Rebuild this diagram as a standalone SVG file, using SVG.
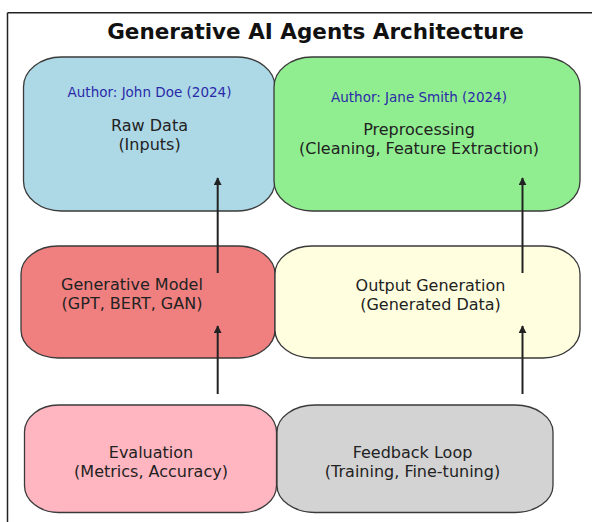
<svg xmlns="http://www.w3.org/2000/svg" width="592" height="522" viewBox="0 0 592 522">
  <defs>
    <style>
      .box { stroke: #3a3a3a; stroke-width: 1.3; }
      .lbl { font-family: "DejaVu Sans", "Liberation Sans", sans-serif; font-size: 16px; fill: #222; text-anchor: middle; }
      .auth { font-family: "DejaVu Sans", "Liberation Sans", sans-serif; font-size: 13.5px; fill: #2a2aa8; text-anchor: middle; }
      .title { font-family: "DejaVu Sans", "Liberation Sans", sans-serif; font-size: 21.5px; font-weight: bold; fill: #111; text-anchor: middle; }
      .conn { stroke: #222; stroke-width: 2; fill: none; }
    </style>
    <marker id="ah" viewBox="0 0 10 10" refX="9" refY="5" markerWidth="4" markerHeight="4" orient="auto" markerUnits="strokeWidth">
      <path d="M0,0 L10,5 L0,10 Z" fill="#222"/>
    </marker>
  </defs>
  <rect x="0" y="0" width="592" height="522" fill="#fff"/>
  <g id="frame">
    <line x1="7.5" y1="12.7" x2="592" y2="12.7" stroke="#222" stroke-width="1.5"/>
    <line x1="7.5" y1="12.7" x2="7.5" y2="522" stroke="#222" stroke-width="1.5"/>
  </g>
  <text class="title" x="315.5" y="38.8">Generative AI Agents Architecture</text>

  <g id="raw-data">
    <rect class="box" x="23.5" y="57" width="251.5" height="154" rx="38" ry="30" fill="#add8e6"/>
    <text class="auth" x="149.5" y="96.5">Author: John Doe (2024)</text>
    <text class="lbl" x="149.5" y="131">Raw Data</text>
    <text class="lbl" x="149.5" y="150">(Inputs)</text>
  </g>
  <g id="preprocessing">
    <rect class="box" x="274" y="57" width="306" height="154" rx="38" ry="30" fill="#90ee90"/>
    <text class="auth" x="419" y="101.5">Author: Jane Smith (2024)</text>
    <text class="lbl" x="419" y="135">Preprocessing</text>
    <text class="lbl" x="419" y="154">(Cleaning, Feature Extraction)</text>
  </g>
  <g id="generative-model">
    <rect class="box" x="21" y="246" width="254" height="112" rx="37" ry="28" fill="#f08080"/>
    <text class="lbl" x="132" y="289.5">Generative Model</text>
    <text class="lbl" x="132" y="308.5">(GPT, BERT, GAN)</text>
  </g>
  <g id="output-generation">
    <rect class="box" x="275" y="246" width="305" height="112" rx="37" ry="28" fill="#ffffe0"/>
    <text class="lbl" x="430.5" y="290.5">Output Generation</text>
    <text class="lbl" x="430.5" y="309.5">(Generated Data)</text>
  </g>
  <g id="evaluation">
    <rect class="box" x="24.5" y="405" width="252" height="107.5" rx="34" ry="27" fill="#ffb6c1"/>
    <text class="lbl" x="151" y="458.3">Evaluation</text>
    <text class="lbl" x="151" y="477">(Metrics, Accuracy)</text>
  </g>
  <g id="feedback-loop">
    <rect class="box" x="277" y="405" width="276" height="107.5" rx="38" ry="27" fill="#d3d3d3"/>
    <text class="lbl" x="412.5" y="458.3">Feedback Loop</text>
    <text class="lbl" x="412.5" y="477">(Training, Fine-tuning)</text>
  </g>

  <g id="connectors">
    <line class="conn" x1="217.7" y1="394" x2="217.7" y2="326" marker-end="url(#ah)"/>
    <line class="conn" x1="217.7" y1="273" x2="217.7" y2="178" marker-end="url(#ah)"/>
    <line class="conn" x1="522.5" y1="394" x2="522.5" y2="326" marker-end="url(#ah)"/>
    <line class="conn" x1="522.5" y1="273" x2="522.5" y2="178" marker-end="url(#ah)"/>
  </g>
</svg>
